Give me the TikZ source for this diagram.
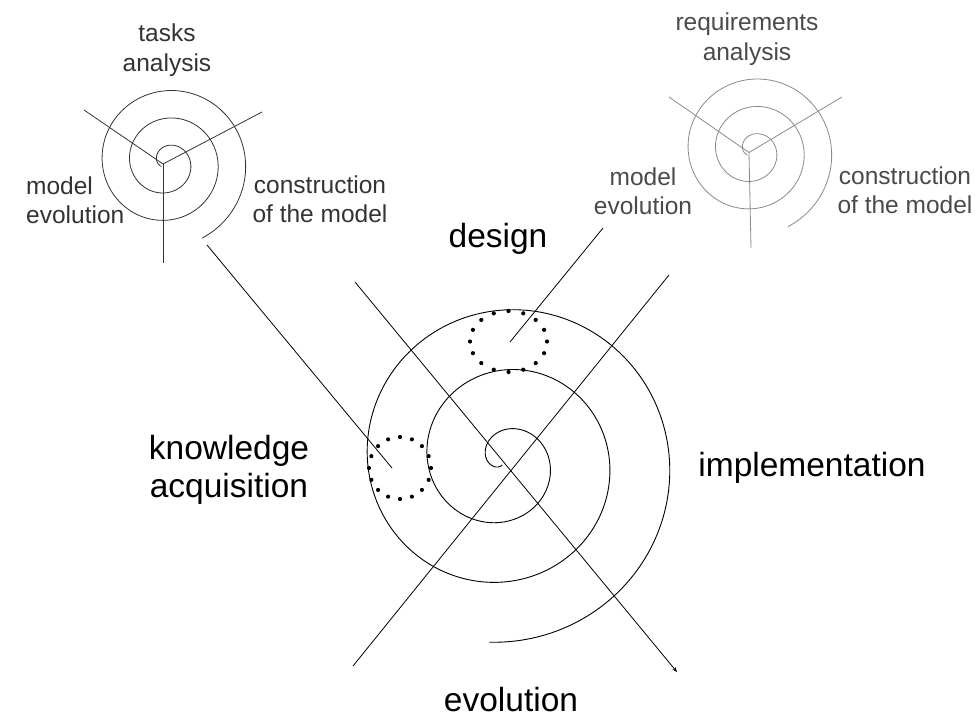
\documentclass[tikz,border=0pt]{standalone}
\usepackage{fontspec}
\setmainfont{Liberation Sans}
\usetikzlibrary{arrows.meta}
\definecolor{darkink}{HTML}{333333}
\definecolor{greyink}{HTML}{4A4A4A}
\definecolor{greyline}{HTML}{8A8A8A}
\tikzstyle{biglabel} = [align=center, inner sep=0pt, font=\fontsize{33.5}{38}\selectfont]
\tikzstyle{smalllabel} = [align=center, inner sep=0pt, font=\fontsize{24.5}{29.5}\selectfont]
\tikzstyle{spiral} = [line width=0.9pt, smooth]
\tikzstyle{ray} = [line width=0.8pt]
\tikzstyle{dotring} = [fill=black]

\begin{document}
\begin{tikzpicture}[x=1pt, y=-1pt]
\useasboundingbox (0,0) rectangle (975,718);

% main spiral
\draw[spiral] plot[domain=3.46:22.07, samples=320]
  ({503.5+(9.55*\x-29)*sin(\x r)}, {461-(9.55*\x-29)*cos(\x r)});
\coordinate (nw) at (355,282);
\coordinate (se) at (677,672);
\coordinate (sw) at (353,666);
\coordinate (ne) at (669,275);
\draw[ray] (sw) -- (ne);
\draw[ray, -{Stealth[length=5pt, width=4pt]}] (nw) -- (se);

% dotted rings
\coordinate (kc) at (400,468);
\coordinate (dc) at (508.5,341.5);
\foreach \a in {0,22.5,...,337.5}
  \fill[dotring, shift={(kc)}] (\a:31 and 31) circle (2.1);
\foreach \a in {0,22.5,...,337.5}
  \fill[dotring, shift={(dc)}] (\a:38.5 and 30.5) circle (2.1);

% small spiral, left
\begin{scope}[darkink]
\draw[spiral, line width=0.8pt] plot[domain=4.09:21.56, samples=220]
  ({167+(4.38*\x-10.9)*sin(\x r)}, {162.3-(4.38*\x-10.9)*cos(\x r)});
\coordinate (tl) at (163,164);
\draw[ray] (tl) -- (84,110);
\draw[ray] (tl) -- (262,112);
\draw[ray] (tl) -- (163,263);
\end{scope}

% small spiral, right
\begin{scope}[greyline, shift={(586,-11.5)}]
\draw[spiral, line width=0.8pt] plot[domain=4.09:21.56, samples=220]
  ({167+(4.38*\x-10.9)*sin(\x r)}, {162.3-(4.38*\x-10.9)*cos(\x r)});
\coordinate (tr) at (163,164);
\draw[ray] (tr) -- (83,108.5);
\draw[ray] (tr) -- (256,108.5);
\draw[ray] (tr) -- (165,259.5);
\end{scope}

% links to the rings
\coordinate (ka) at (392,468);
\coordinate (da) at (510,342);
\coordinate (tlend) at (207,245);
\coordinate (trend) at (603,228);
\draw[ray] (tlend) -- (ka);
\draw[ray] (da) -- (trend);

% labels
\node(tasks)[smalllabel, text=darkink] at (167,50) {tasks\\analysis};
\node(tlevol)[smalllabel, text=darkink, align=left, anchor=west] at (26,200) {model\\evolution};
\node(tlcons)[smalllabel, text=darkink] at (320,199) {construction\\of the model};
\node(reqs)[smalllabel, text=greyink] at (747,39) {requirements\\analysis};
\node(trevol)[smalllabel, text=greyink] at (643,191) {model\\evolution};
\node(trcons)[smalllabel, text=greyink] at (905,190) {construction\\of the model};

\node(design)[biglabel] at (498,239) {design};
\node(know)[biglabel] at (229,470) {knowledge\\acquisition};
\node(impl)[biglabel] at (812,468) {implementation};
\node(evol)[biglabel] at (511,700) {evolution};

\end{tikzpicture}
\end{document}
